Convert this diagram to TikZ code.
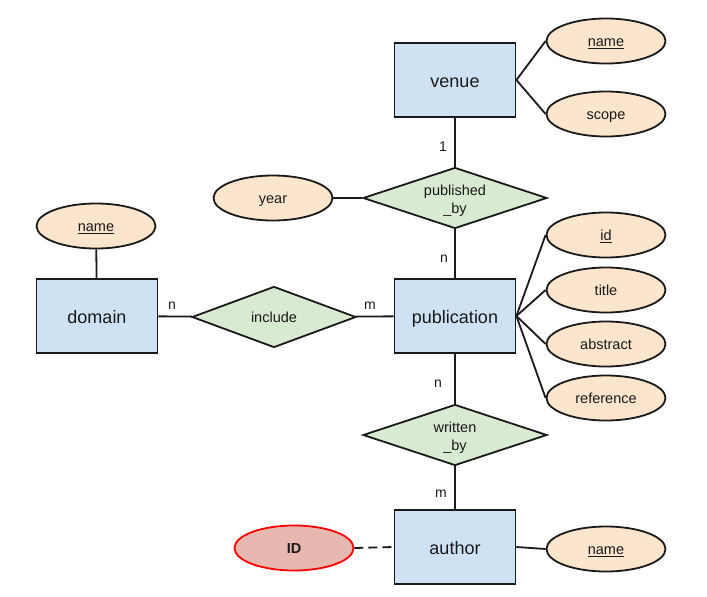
\documentclass[tikz,border=0pt]{standalone}
\usepackage{fontspec}
\setmainfont{Liberation Sans}
\usetikzlibrary{shapes.geometric}
\definecolor{entfill}{HTML}{CFE2F3}
\definecolor{attfill}{HTML}{FCE5CD}
\definecolor{relfill}{HTML}{D9EAD3}
\definecolor{keyfill}{HTML}{E6B8AF}
\definecolor{ink}{HTML}{1A1A1A}
\tikzset{
  entity/.style={draw=ink, line width=1.8pt, fill=entfill, rectangle,
    minimum width=121pt, minimum height=74pt, inner sep=0pt,
    text height=14pt, text depth=0pt,
    font=\fontsize{18}{20}\selectfont, text=ink},
  attr/.style={draw=ink, line width=1.8pt, fill=attfill, ellipse,
    minimum width=119pt, minimum height=45pt, inner sep=0pt,
    text height=11pt, text depth=0pt,
    font=\fontsize{14.5}{17}\selectfont, text=ink},
  rel/.style={draw=ink, line width=1.8pt, fill=relfill, diamond,
    minimum width=184pt, minimum height=61pt, inner sep=0pt},
  reltext/.style={align=center, inner sep=0pt,
    font=\fontsize{14.5}{18}\selectfont, text=ink},
  link/.style={draw=ink, line width=1.8pt},
  card/.style={font=\fontsize{14}{16}\selectfont, text=ink, inner sep=0pt}
}
\begin{document}
\begin{tikzpicture}[x=1pt, y=-1pt]
\useasboundingbox (0,0) rectangle (707,597);

% entities
\node[entity] (venue)  at (455,80)  {venue};
\node[entity] (domain) at (97,316)  {domain};
\node[entity] (pub)    at (455,316) {publication};
\node[entity] (author) at (455,547) {author};

% relationships (empty diamonds, text set on top so it does not grow them)
\node[rel] (pubby) at (455,198) {};
\node[reltext, yshift=-3pt] (pubbytext) at (pubby.center) {published\\\_by};
\node[rel, minimum width=164pt] (incl) at (274,317) {};
\node[reltext, text height=11pt, text depth=0pt] (incltext) at (incl.center) {include};
\node[rel] (wrby)  at (455,435) {};
\node[reltext, yshift=-3pt] (wrbytext) at (wrby.center) {written\\\_by};

% attributes
\node[attr] (vname)  at (606,41)  {\underline{name}};
\node[attr] (vscope) at (606,114) {scope};
\node[attr] (year)   at (273,198) {year};
\node[attr] (dname)  at (96,226)  {\underline{name}};
\node[attr] (pid)    at (606,235) {\underline{id}};
\node[attr] (ptitle) at (606,290) {title};
\node[attr] (pabs)   at (606,344) {abstract};
\node[attr] (pref)   at (606,398) {reference};
\node[attr] (aname)  at (606,549) {\underline{name}};
\node[attr, draw=red, fill=keyfill, font=\fontsize{14.5}{17}\selectfont\bfseries] (aid) at (294,548) {ID};

% attribute links
\draw[link] (venue.east) -- (vname.west);
\draw[link] (venue.east) -- (vscope.west);
\draw[link] (year.east) -- (pubby.west);
\draw[link] (dname) -- (domain);
\draw[link] (pub.east) -- (pid.west);
\draw[link] (pub.east) -- (ptitle.west);
\draw[link] (pub.east) -- (pabs.west);
\draw[link] (pub.east) -- (pref.west);
\draw[link] (author.east) -- (aname.west);
\draw[link, dashed, dash pattern=on 9pt off 5pt] (aid.east) -- (author.west);

% relationship links
\draw[link] (venue) -- (pubby);
\draw[link] (pubby) -- (pub);
\draw[link] (domain) -- (incl);
\draw[link] (incl) -- (pub);
\draw[link] (pub) -- (wrby);
\draw[link] (wrby) -- (author);

% cardinalities
\node[card] (c1) at (443,147) {1};
\node[card] (c2) at (444,259) {n};
\node[card] (c3) at (172,306) {n};
\node[card] (c4) at (370,306) {m};
\node[card] (c5) at (438,384) {n};
\node[card] (c6) at (441,494) {m};
\end{tikzpicture}
\end{document}
